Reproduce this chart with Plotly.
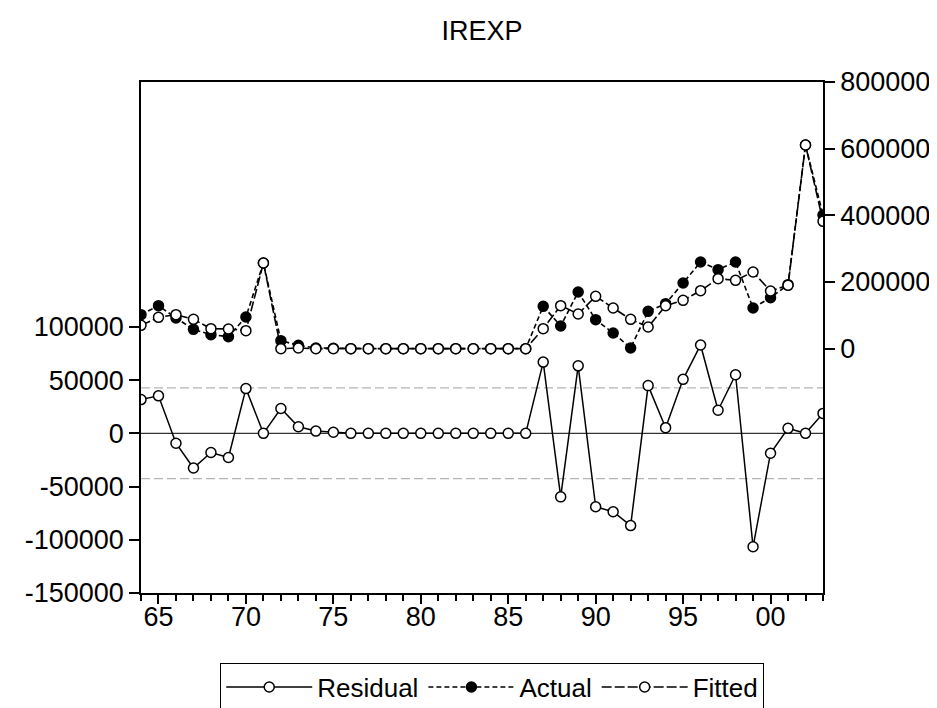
import plotly.graph_objects as go

years = list(range(1964, 2004))
actual = [102000, 129000, 92000, 58000, 42000, 36000, 95000, 257000, 24000, 10000,
          2000, 1000, 0, 0, 0, 0, 0, 0, 0, 0, 0, 0, 0,
          127000, 68000, 170000, 87000, 47000, 2000, 112000, 135000, 197000,
          260000, 237000, 260000, 122000, 153000, 192000, 611000, 401000]
fitted = [70000, 94000, 102000, 88000, 60000, 59000, 54000, 257000, 0, 2000,
          0, 0, 0, 0, 0, 0, 0, 0, 0, 0, 0, 0, 0,
          60000, 129000, 104000, 157000, 122000, 88000, 65000, 129000, 145000,
          174000, 210000, 205000, 230000, 173000, 190000, 611000, 382000]
residual = [31700, 35200, -9300, -32600, -18000, -22700, 42000, 0, 23300, 6200,
            2100, 1000, 0, 0, 0, 0, 0, 0, 0, 0, 0, 0, 0,
            66900, -59700, 63400, -69000, -73700, -86700, 44800, 5300, 50700,
            83000, 21700, 55000, -106600, -18700, 4700, 0, 18700]
resid_sd = 42600
x_tickvals = [1965, 1970, 1975, 1980, 1985, 1990, 1995, 2000]
x_ticktext = ["65", "70", "75", "80", "85", "90", "95", "00"]
left_ticks = [-150000, -100000, -50000, 0, 50000, 100000]
right_ticks = [0, 200000, 400000, 600000, 800000]

FONT = "Arial, Liberation Sans, sans-serif"
fig = go.Figure()

fig.add_trace(go.Scatter(
    x=years, y=residual, name="Residual", mode="lines+markers",
    line=dict(color="black", width=1.5),
    marker=dict(symbol="circle", size=10, color="white", line=dict(color="black", width=1.5)),
    yaxis="y"))
fig.add_trace(go.Scatter(
    x=years, y=actual, name="Actual", mode="lines+markers",
    line=dict(color="black", width=1.6, dash="5px,3px"),
    marker=dict(symbol="circle", size=10, color="black", line=dict(color="black", width=1.5)),
    yaxis="y2"))
fig.add_trace(go.Scatter(
    x=years, y=fitted, name="Fitted", mode="lines+markers",
    line=dict(color="black", width=1.6, dash="10px,3px"),
    marker=dict(symbol="circle", size=10, color="white", line=dict(color="black", width=1.5)),
    yaxis="y2"))

shapes = [
    dict(type="line", xref="paper", x0=0, x1=1, yref="y", y0=0, y1=0,
         line=dict(color="black", width=1), layer="below"),
    dict(type="line", xref="paper", x0=0, x1=1, yref="y", y0=resid_sd, y1=resid_sd,
         line=dict(color="#b4b4b4", width=1.2, dash="9px,4px"), layer="below"),
    dict(type="line", xref="paper", x0=0, x1=1, yref="y", y0=-resid_sd, y1=-resid_sd,
         line=dict(color="#b4b4b4", width=1.2, dash="9px,4px"), layer="below"),
]

fig.update_layout(
    width=937, height=708,
    margin=dict(l=133, r=122, t=74, b=123, autoexpand=False),
    paper_bgcolor="white", plot_bgcolor="white",
    font=dict(family=FONT, size=27, color="black"),
    title=dict(text="IREXP", x=0.5, xref="paper", xanchor="center", y=1 - 23 / 708,
               yanchor="middle", font=dict(size=27)),
    showlegend=True,
    legend=dict(orientation="h", x=0.515, xanchor="center", y=-0.232, yanchor="bottom",
                bordercolor="black", borderwidth=1, font=dict(size=26),
                itemwidth=86, traceorder="normal"),
    shapes=shapes,
    xaxis=dict(range=[1964, 2003], tickvals=x_tickvals, ticktext=x_ticktext,
               ticks="outside", ticklen=9, tickwidth=1.5, tickcolor="black",
               ticklabelstandoff=-10,
               minor=dict(dtick=1, tick0=1964, ticks="outside", ticklen=6,
                          tickwidth=1.5, tickcolor="black"),
               showline=True, linecolor="black", linewidth=1.5, mirror=True,
               showgrid=False, zeroline=False, automargin=False),
    yaxis=dict(range=[-150000, 330000], tickvals=left_ticks,
               ticktext=[str(v) for v in left_ticks],
               ticks="outside", ticklen=10, tickwidth=1.5, tickcolor="black",
               showline=True, linecolor="black", linewidth=1.5,
               showgrid=False, zeroline=False, automargin=False),
    yaxis2=dict(range=[-733000, 800000], tickvals=right_ticks,
                ticktext=[str(v) for v in right_ticks],
                overlaying="y", side="right",
                ticks="outside", ticklen=10, tickwidth=1.5, tickcolor="black",
                showline=True, linecolor="black", linewidth=1.5,
                showgrid=False, zeroline=False, automargin=False),
)

fig.write_html("out.html")
